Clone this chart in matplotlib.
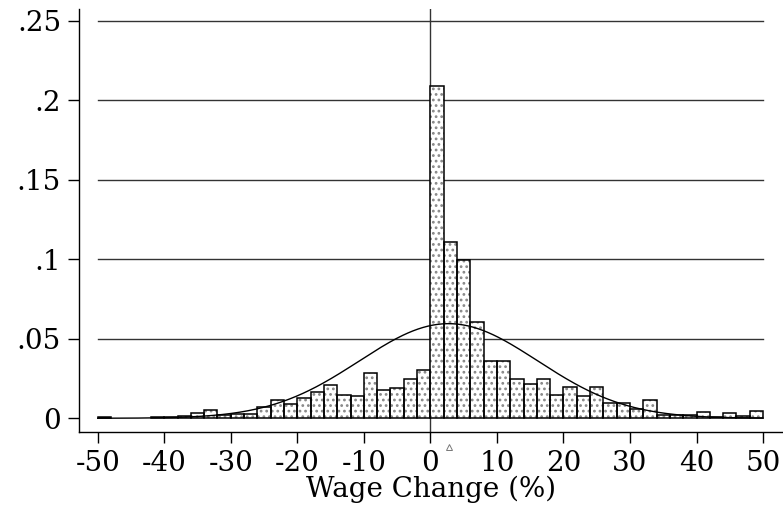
import numpy as np
import matplotlib
matplotlib.use("Agg")
import matplotlib.pyplot as plt
import matplotlib.transforms as mtransforms

# Histogram of wage changes: bins of width 2 from -50 to 50 (fraction per bin)
bin_left = list(range(-50, 50, 2))
fraction = [
    0.0007, 0.0, 0.0, 0.0, 0.0005, 0.0006, 0.0015, 0.0032, 0.0049, 0.0018,
    0.0030, 0.0030, 0.0068, 0.0118, 0.0093, 0.0125, 0.0163, 0.0211, 0.0145, 0.0140,
    0.0288, 0.0178, 0.0193, 0.0247, 0.0304, 0.2088, 0.1107, 0.0996, 0.0604, 0.0358,
    0.0358, 0.0250, 0.0217, 0.0248, 0.0145, 0.0195, 0.0142, 0.0195, 0.0094, 0.0094,
    0.0057, 0.0118, 0.0020, 0.0020, 0.0018, 0.0038, 0.0010, 0.0031, 0.0013, 0.0048,
]
bin_width = 2

# normal overlay parameters (mean marked with a small triangle on the axis)
mean_change = 2.73
sd_change = 13.4

xticks = [-50, -40, -30, -20, -10, 0, 10, 20, 30, 40, 50]
yticks = [0, 0.05, 0.1, 0.15, 0.2, 0.25]
ytick_labels = ["0", ".05", ".1", ".15", ".2", ".25"]

plt.rcParams["font.family"] = "DejaVu Serif"
plt.rcParams["hatch.linewidth"] = 1.2
plt.rcParams["hatch.color"] = "#777777"

fig = plt.figure(figsize=(7.83, 5.11), dpi=100)
ax = fig.add_axes([0.101, 0.155, 0.899, 0.827])

# grid lines, only over the data range
for y in yticks[1:]:
    ax.plot([-50, 50], [y, y], color="#333333", lw=1.0, zorder=1)

ax.axvline(0, ymin=0, ymax=1, color="#333333", lw=1.0, zorder=1)

# bars: stipple fill then black outline
lefts = np.array(bin_left, dtype=float)
heights = np.array(fraction)
shown = heights > 0
ax.bar(lefts[shown], heights[shown], width=bin_width, align="edge",
       facecolor="white", edgecolor="#888888", hatch="...", lw=0, zorder=2)
ax.bar(lefts[shown], heights[shown], width=bin_width, align="edge",
       facecolor="none", edgecolor="black", lw=1.1, zorder=3)

# normal density scaled to fraction per bin
xs = np.linspace(-50, 50, 400)
dens = bin_width * np.exp(-0.5 * ((xs - mean_change) / sd_change) ** 2) / (sd_change * np.sqrt(2 * np.pi))
ax.plot(xs, dens, color="black", lw=1.0, zorder=4)

ax.set_xlim(-52.8, 53.0)
ax.set_ylim(-0.0085, 0.2574)

ax.set_xticks(xticks)
ax.set_xticklabels([str(t) for t in xticks])
ax.set_yticks(yticks)
ax.set_yticklabels(ytick_labels)
ax.tick_params(axis="both", labelsize=20, length=8, width=1.0, color="black")
ax.tick_params(axis="x", pad=5)
ax.tick_params(axis="y", pad=5)

for s in ["top", "right"]:
    ax.spines[s].set_visible(False)
for s in ["left", "bottom"]:
    ax.spines[s].set_linewidth(1.0)

# mean marker below the x axis
trans = mtransforms.blended_transform_factory(ax.transData, ax.transAxes)
ax.plot([mean_change], [-0.035], marker="^", ms=4, mfc="white", mec="#777777",
        mew=0.7, transform=trans, clip_on=False, zorder=5)

ax.set_xlabel("Wage Change (%)", fontsize=20, labelpad=-1)

plt.savefig("out.png", dpi=100)
